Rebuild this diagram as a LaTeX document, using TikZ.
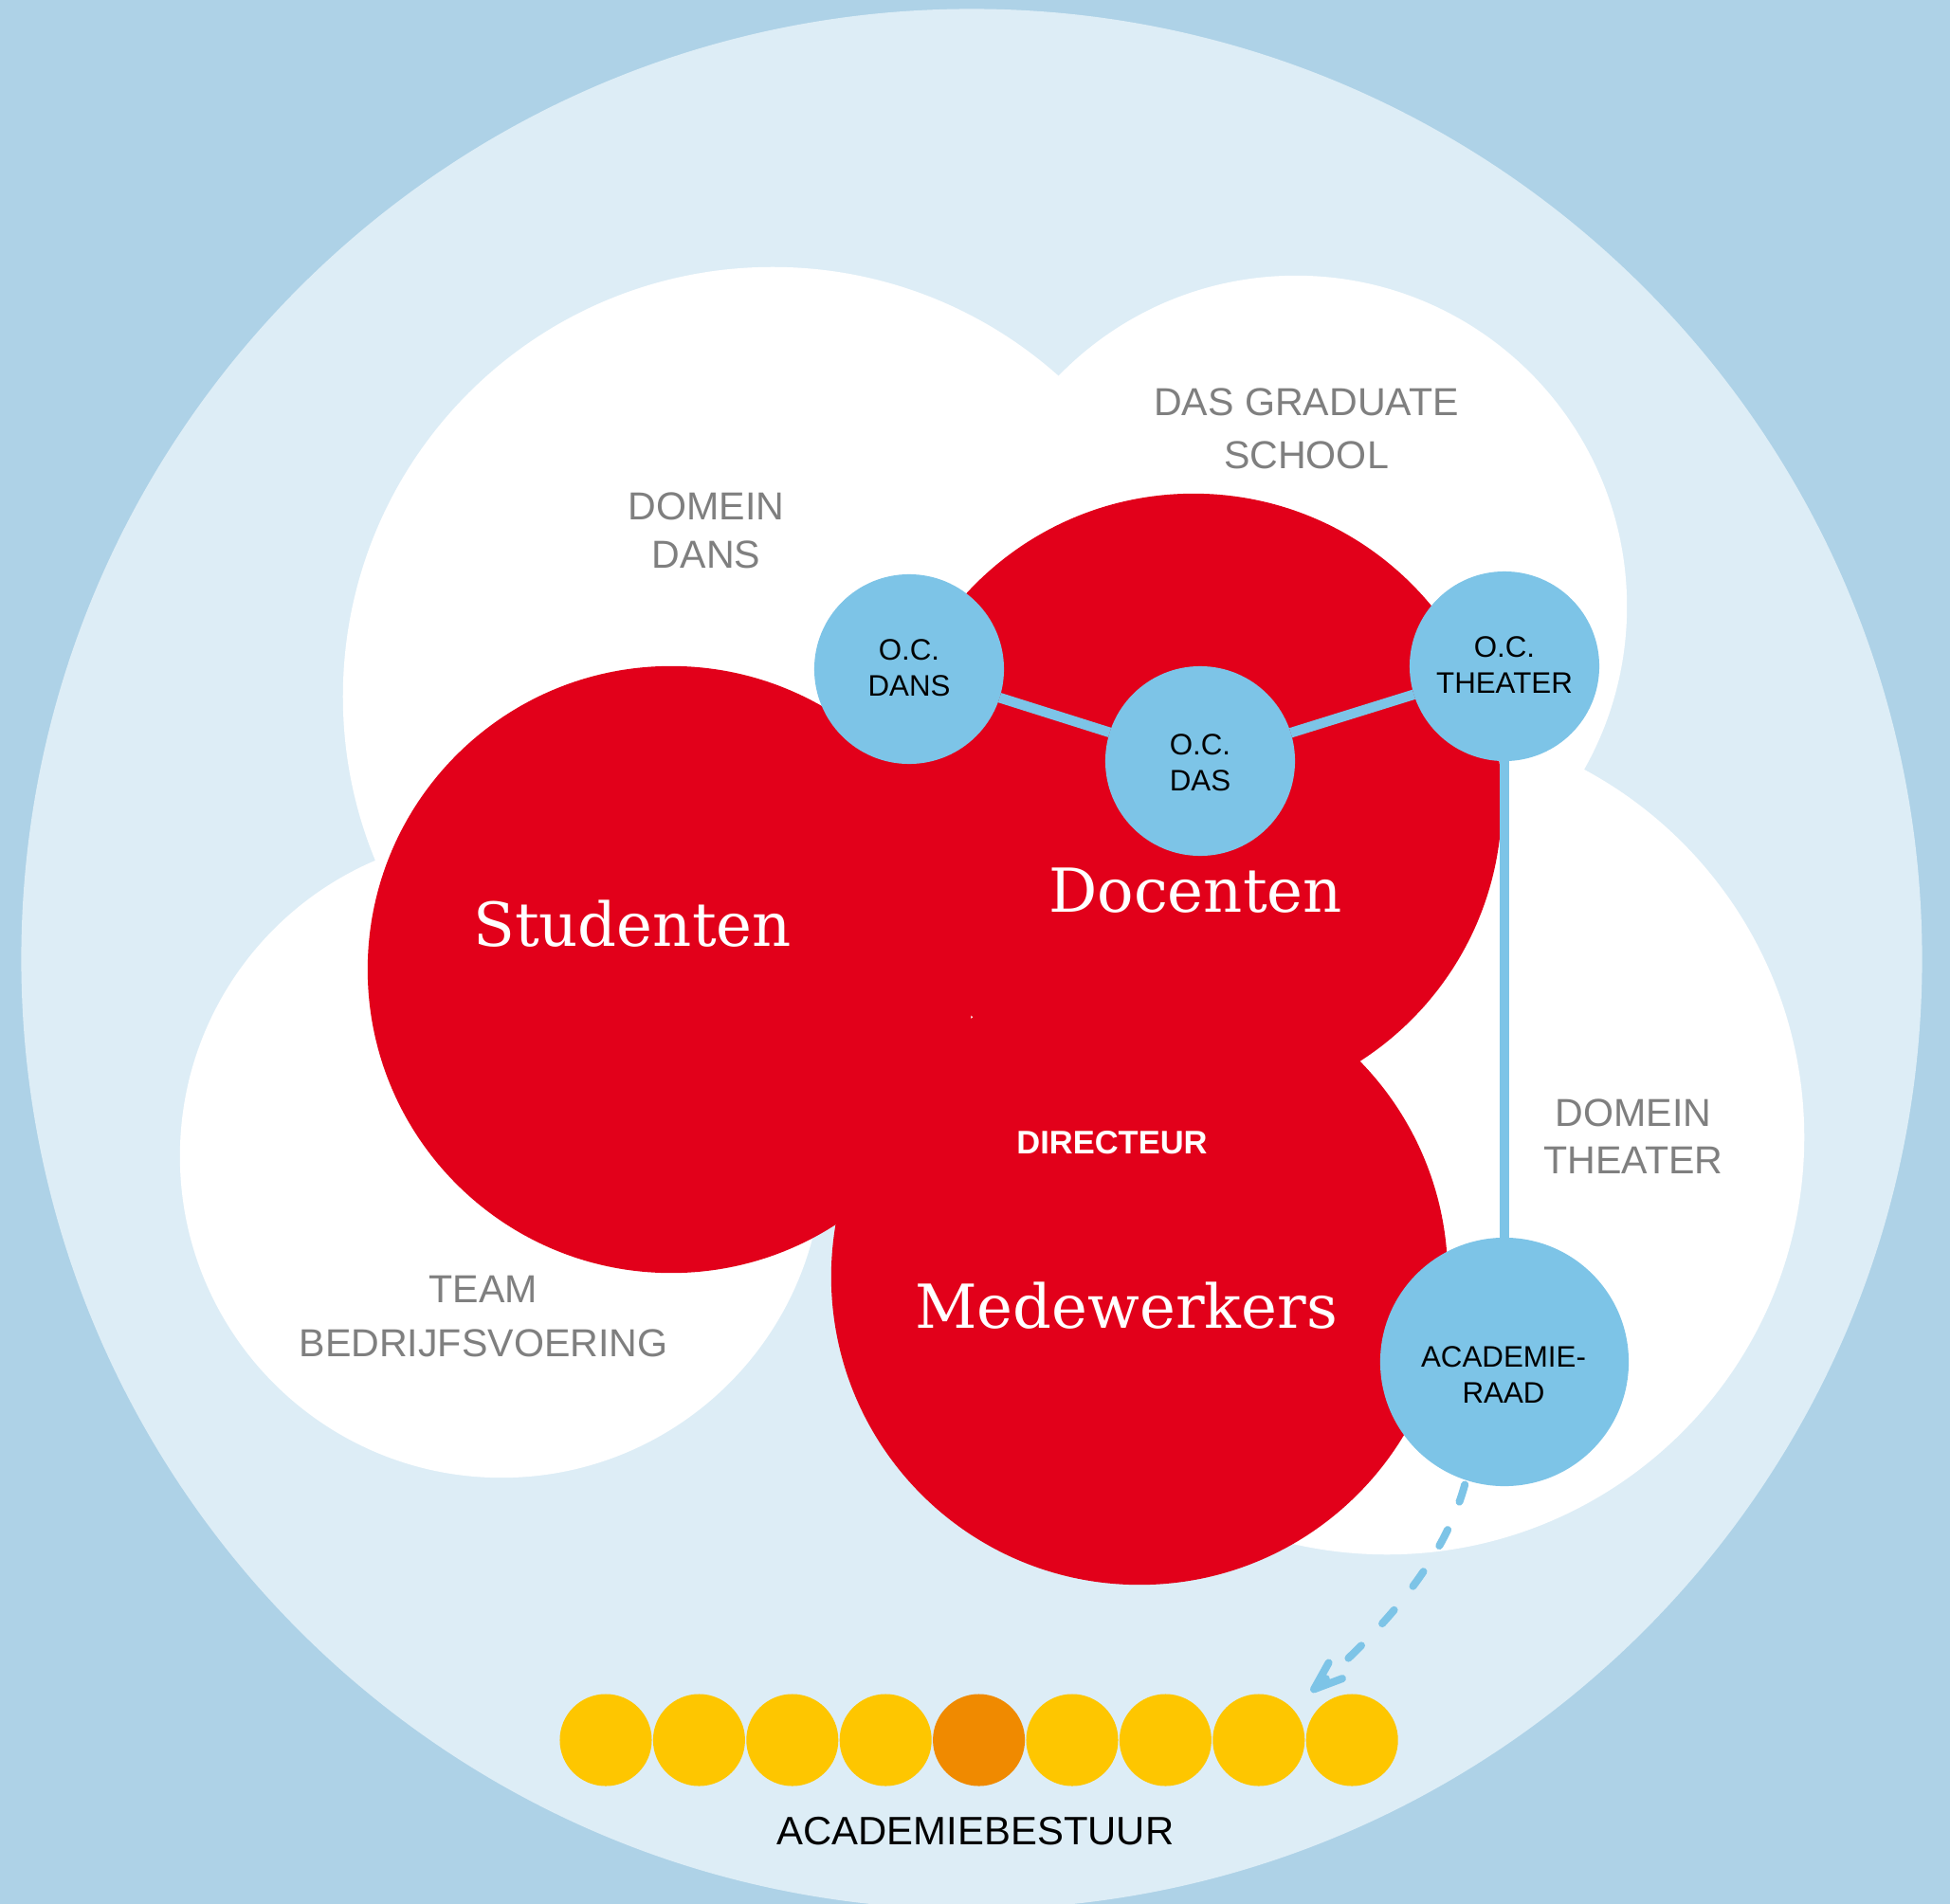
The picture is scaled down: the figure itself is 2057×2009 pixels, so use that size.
\documentclass[tikz,border=0pt]{standalone}
\usepackage{fontspec}
\newfontfamily\hel{Liberation Sans}
\newfontfamily\ser{DejaVu Serif}
\usetikzlibrary{arrows.meta}
\definecolor{bgblue}{HTML}{AED2E7}
\definecolor{paleblue}{HTML}{DDEDF6}
\definecolor{kred}{HTML}{E2001A}
\definecolor{kblue}{HTML}{7DC4E7}
\definecolor{kyellow}{HTML}{FEC600}
\definecolor{korange}{HTML}{F08A00}
\definecolor{kgray}{HTML}{7F7F7F}
\begin{document}
\begin{tikzpicture}[x=0.01cm,y=-0.01cm,
  disc/.style={circle,inner sep=0pt,outer sep=0pt,minimum size=#1},
  cloud/.style={disc=#1,fill=white},
  reddisc/.style={disc=#1,fill=kred},
  ocdisc/.style={disc=#1,fill=kblue,text=black,align=center,
     font=\hel\fontsize{8.8pt}{10.8pt}\selectfont},
  member/.style={disc=0.97cm,fill=kyellow},
  domlab/.style={anchor=base,align=center,text=kgray,inner sep=0pt,
     font=\hel\fontsize{11.7pt}{#1}\selectfont},
  bigword/.style={anchor=base,text=white,inner sep=0pt,
     font=\ser\fontsize{18.2pt}{20pt}\selectfont},
  oclab/.style={anchor=base,align=center,text=black,inner sep=0pt,
     font=\hel\fontsize{8.9pt}{10.8pt}\selectfont},
  link/.style={kblue,line width=3pt}
]
\fill[bgblue] (0,0) rectangle (2057,2009);
\useasboundingbox (0,0) rectangle (2057,2009);
% outer pale circle
\node[disc=20.04cm,fill=paleblue] (outer) at (1025,1012) {};
% white clouds
\node[cloud=9.06cm] (dansc) at (815,735) {};
\node[cloud=6.98cm] (dasc) at (1367,640) {};
\node[cloud=8.80cm] (theaterc) at (1463,1200) {};
\node[cloud=6.78cm] (teamc) at (529,1220) {};
% red circles
\node[reddisc=6.40cm] (stud) at (708,1023) {};
\node[reddisc=6.50cm] (doc) at (1259,846) {};
\node[reddisc=6.50cm] (mede) at (1202,1347) {};
% blue circles
\node[ocdisc=2.00cm] (ocdans) at (959,706) {};
\node[ocdisc=2.00cm] (ocdas) at (1266,803) {};
\node[ocdisc=2.00cm] (octheater) at (1587,703) {};
\node[ocdisc=2.62cm] (acad) at (1587,1437) {};
% links
\draw[link] (ocdans) -- (ocdas);
\draw[link] (ocdas) -- (octheater);
\draw[link] (octheater) -- (acad);
% domain labels (anchor = baseline of last line)
\node[domlab=14.5pt] (ldans) at (745,599) {DOMEIN\\DANS};
\node[domlab=15.9pt] (ldas) at (1378,494) {DAS GRADUATE\\SCHOOL};
\node[domlab=14.2pt] (ltheater) at (1723,1238) {DOMEIN\\THEATER};
\node[domlab=16.2pt] (lteam) at (510,1431) {TEAM\\BEDRIJFSVOERING};
% big words
\node[bigword] (tstud) at (667,998) {Studenten};
\node[bigword] (tdoc) at (1261,962) {Docenten};
\node[bigword] (tmede) at (1188,1401) {Medewerkers};
\node[anchor=base,text=white,inner sep=0pt,font=\hel\bfseries\fontsize{9.8pt}{11pt}\selectfont] (tdir) at (1173,1217) {DIRECTEUR};
% O.C. labels
\node[oclab] (tocdans) at (959,734) {O.C.\\DANS};
\node[oclab] (tocdas) at (1266,834) {O.C.\\DAS};
\node[oclab] (toctheater) at (1587,731) {O.C.\\THEATER};
\node[oclab] (tacad) at (1586,1480) {ACADEMIE-\\RAAD};
% academiebestuur
\node[member] (m1) at (639,1836) {};
\node[member] (m2) at (737.4,1836) {};
\node[member] (m3) at (835.8,1836) {};
\node[member] (m4) at (934.2,1836) {};
\node[member,fill=korange] (m5) at (1032.6,1836) {};
\node[member] (m6) at (1131,1836) {};
\node[member] (m7) at (1229.4,1836) {};
\node[member] (m8) at (1327.8,1836) {};
\node[member] (m9) at (1426.2,1836) {};
\node[anchor=base,inner sep=0pt,text=black,font=\hel\fontsize{11.9pt}{14pt}\selectfont] (tbestuur) at (1029,1946) {ACADEMIEBESTUUR};
% dashed arrow
\coordinate (tip) at (1383,1785);
\draw[kblue,line width=0.08cm,line cap=round,dash pattern=on 0.19cm off 0.32cm,
  shorten <=0.05cm,
  -{Straight Barb[length=0.3cm,width=0.22cm,round]}]
  (acad.-108) .. controls (1525,1640) and (1470,1710) .. (tip);
\end{tikzpicture}
\end{document}
